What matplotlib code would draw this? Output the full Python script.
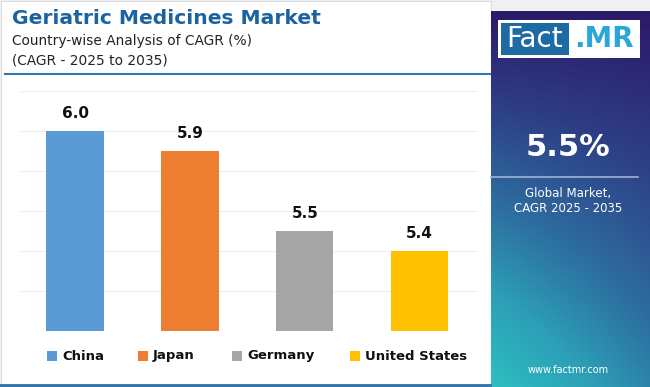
import matplotlib.pyplot as plt
import numpy as np
from matplotlib.patches import Rectangle
from matplotlib.colors import LinearSegmentedColormap

countries = ['China', 'Japan', 'Germany', 'United States']
cagr = [6.0, 5.9, 5.5, 5.4]
colors = ['#5b9bd5', '#ed7d31', '#a5a5a5', '#ffc000']
global_cagr = '5.5%'

W, H = 650, 387
fig = plt.figure(figsize=(6.5, 3.87), dpi=100)
fig.patch.set_facecolor('#f1f1f1')

def fx(px):
    return px / W

def fy(py):
    return 1 - py / H

# white card
fig.patches.append(Rectangle((fx(1), fy(386)), fx(490), 385 / H,
                             transform=fig.transFigure, facecolor='white',
                             edgecolor='#dddddd', lw=0.8, zorder=-5))

# right gradient panel
gax = fig.add_axes([fx(491), 0, fx(159), (H - 11) / H])
gy, gx = np.mgrid[0:1:200j, 0:1:100j]
t = np.clip(gy * (0.62 + 0.38 * (1 - gx)), 0, 1)
cmap = LinearSegmentedColormap.from_list('g', ['#2b1a69', '#2e3f86', '#2d6c9f', '#2c9fb7', '#2cbfc1'])
gax.imshow(t, cmap=cmap, aspect='auto', origin='upper', extent=[0, 1, 0, 1])
gax.set_axis_off()

# title block
fig.text(fx(12), fy(18), 'Geriatric Medicines Market', fontsize=14.6, fontweight='bold',
         color='#1b62a0', va='center')
fig.text(fx(12), fy(41), 'Country-wise Analysis of CAGR (%)', fontsize=9.9,
         color='#222222', va='center')
fig.text(fx(12), fy(61), '(CAGR - 2025 to 2035)', fontsize=9.9,
         color='#222222', va='center')
fig.lines.append(plt.Line2D([fx(5), fx(490)], [fy(74), fy(74)], transform=fig.transFigure,
                            color='#2a7ab0', lw=1.5))
fig.lines.append(plt.Line2D([fx(0), fx(490)], [fy(385), fy(385)], transform=fig.transFigure,
                            color='#2a6fa8', lw=2))

# bar chart
ax = fig.add_axes([fx(20), fy(331), fx(457), (331 - 91) / H])
ax.set_facecolor('none')
x = np.arange(len(countries))
ax.bar(x, cagr, width=0.5, color=colors, zorder=3)
ax.set_ylim(5.0, 6.2)
ax.set_xlim(-0.48, 3.5)
ax.set_yticks(np.arange(5.0, 6.21, 0.2))
ax.yaxis.grid(True, color='#eeeeee', lw=0.8, zorder=0)
ax.tick_params(left=False, bottom=False, labelleft=False, labelbottom=False)
for s in ax.spines.values():
    s.set_visible(False)
for xi, v in zip(x, cagr):
    ax.text(xi, v + 0.05, f'{v:.1f}', ha='center', va='bottom', fontsize=11,
            fontweight='bold', color='#111111')

# legend
leg_x = [47, 138, 232, 350]
for lx, name, c in zip(leg_x, countries, colors):
    fig.patches.append(Rectangle((fx(lx), fy(361)), fx(10), 10 / H,
                                 transform=fig.transFigure, facecolor=c, edgecolor='none'))
    fig.text(fx(lx + 15), fy(356), name, fontsize=9.5, fontweight='bold',
             color='#111111', va='center')

# logo
fig.patches.append(Rectangle((fx(498), fy(58)), fx(142), 38 / H, transform=fig.transFigure,
                             facecolor='white', edgecolor='none'))
fig.patches.append(Rectangle((fx(501), fy(55)), fx(68), 32 / H, transform=fig.transFigure,
                             facecolor='#1e6aa3', edgecolor='none'))
fig.text(fx(535), fy(39), 'Fact', fontsize=20, color='white', ha='center', va='center')
fig.text(fx(604), fy(39), '.MR', fontsize=20, color='#2aa6d9', ha='center', va='center',
         fontweight='bold')

# global stat
fig.text(fx(568), fy(148), global_cagr, fontsize=22, fontweight='bold', color='white',
         ha='center', va='center')
fig.lines.append(plt.Line2D([fx(491), fx(638)], [fy(177), fy(177)], transform=fig.transFigure,
                            color='#9fb3d6', lw=1.2))
fig.text(fx(568), fy(193), 'Global Market,', fontsize=8.5, color='white', ha='center', va='center')
fig.text(fx(568), fy(209), 'CAGR 2025 - 2035', fontsize=8.5, color='white', ha='center', va='center')
fig.text(fx(568), fy(370), 'www.factmr.com', fontsize=7, color='white', ha='center', va='center')

fig.savefig('out.png', dpi=100)
